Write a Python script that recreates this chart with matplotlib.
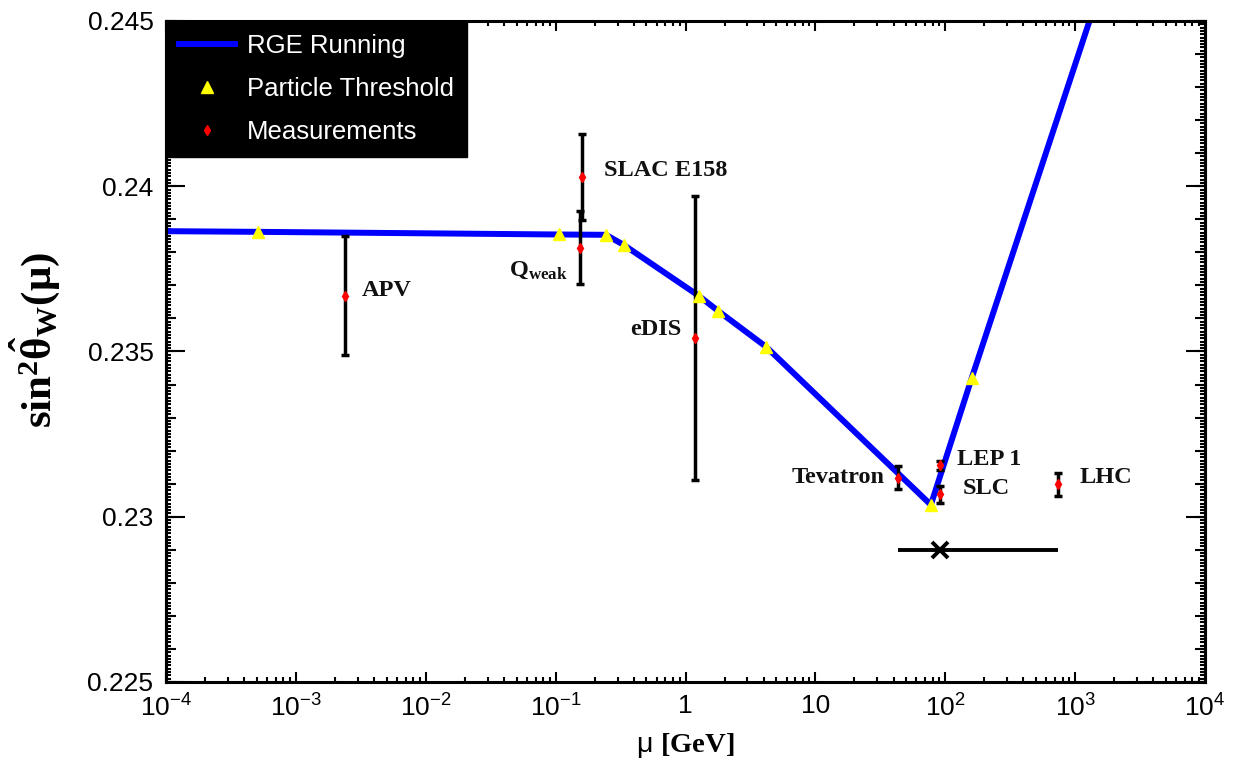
import numpy as np
import matplotlib
matplotlib.use("Agg")
import matplotlib.pyplot as plt
from matplotlib.ticker import FixedLocator, LogLocator, NullFormatter, FixedFormatter
from matplotlib.lines import Line2D

plt.rcParams['font.family'] = ['Liberation Sans', 'DejaVu Sans']
plt.rcParams['mathtext.fontset'] = 'custom'
plt.rcParams['mathtext.rm'] = 'Liberation Sans'
plt.rcParams['mathtext.it'] = 'Liberation Sans:italic'
plt.rcParams['mathtext.bf'] = 'Liberation Serif:bold'
plt.rcParams['mathtext.sf'] = 'Liberation Sans'

# ---------------- data ----------------
rge_mu = [1e-4, 5.11e-4, 0.1057, 0.244, 0.336, 1.27, 1.78, 4.18, 77.5, 160, 1e4]
rge_s2w = [0.23864, 0.23862, 0.23854, 0.23853, 0.23822, 0.23668, 0.23623, 0.23514, 0.23036, 0.23420, 0.2556]

threshold_mu = [5.11e-4, 0.1057, 0.244, 0.336, 1.27, 1.78, 4.18, 77.5, 160]
threshold_s2w = [0.23862, 0.23854, 0.23853, 0.23822, 0.23668, 0.23623, 0.23514, 0.23036, 0.23420]

meas_names = ["APV", r"$\mathbf{Q_{weak}}$", "SLAC E158", "eDIS", "Tevatron", "LEP 1", "SLC", "LHC"]
meas_mu = [2.39e-3, 0.154, 0.160, 1.18, 43.6, 90.8, 90.8, 740]
meas_s2w = [0.23668, 0.23814, 0.24027, 0.23541, 0.23118, 0.23155, 0.23068, 0.23098]
meas_err = [0.0018, 0.0011, 0.0013, 0.0043, 0.00035, 0.00015, 0.00025, 0.00035]

# label anchor positions (mu, s2w) and horizontal alignment
label_mu = [3.23e-3, 0.124, 0.2355, 0.373, 6.59, 122.8, 136.4, 1087]
label_s2w = [0.23686, 0.23745, 0.24049, 0.23565, 0.2312, 0.23172, 0.23084, 0.2312]
label_ha = ["left", "right", "left", "left", "left", "left", "left", "left"]

avg_mu = 90.8
avg_s2w = 0.2290
avg_mu_range = (43.6, 740)

xtick_vals = [1e-4, 1e-3, 1e-2, 1e-1, 1, 10, 1e2, 1e3, 1e4]
xtick_labels = [r"$10^{-4}$", r"$10^{-3}$", r"$10^{-2}$", r"$10^{-1}$", "1", "10",
                r"$10^{2}$", r"$10^{3}$", r"$10^{4}$"]
ytick_vals = [0.225, 0.23, 0.235, 0.24, 0.245]
ytick_labels = ["0.225", "0.23", "0.235", "0.24", "0.245"]

# ---------------- figure ----------------
fig = plt.figure(figsize=(12.5, 7.66), dpi=100)
ax = fig.add_axes([0.1328, 0.1097, 0.8312, 0.8629])

ax.plot(rge_mu, rge_s2w, color='#0000ff', lw=4.3, zorder=2, solid_capstyle='butt')
ax.errorbar(meas_mu, meas_s2w, yerr=meas_err, fmt='none', ecolor='black',
            elinewidth=2.5, capsize=3, capthick=2.5, zorder=3)
ax.plot(threshold_mu, threshold_s2w, '^', color='#ffff00', ms=8, mec='#ffff00', zorder=4, ls='none')
ax.plot(meas_mu, meas_s2w, 'd', color='red', ms=5, mec='red', zorder=5, ls='none')
ax.errorbar([avg_mu], [avg_s2w],
            xerr=[[avg_mu - avg_mu_range[0]], [avg_mu_range[1] - avg_mu]],
            fmt='x', color='black', ms=11, mew=2.8, elinewidth=2.8, capsize=0, zorder=3)

for name, lx, ly, ha in zip(meas_names, label_mu, label_s2w, label_ha):
    ax.text(lx, ly, name, ha=ha, va='center', fontsize=17.5, fontweight='bold',
            family='Liberation Serif', color='#111111')

ax.set_xscale('log')
ax.set_xlim(1e-4, 1e4)
ax.set_ylim(0.225, 0.245)

ax.xaxis.set_major_locator(FixedLocator(xtick_vals))
ax.xaxis.set_major_formatter(FixedFormatter(xtick_labels))
ax.xaxis.set_minor_locator(LogLocator(base=10, subs=np.arange(2, 10), numticks=100))
ax.xaxis.set_minor_formatter(NullFormatter())
ax.yaxis.set_major_locator(FixedLocator(ytick_vals))
ax.yaxis.set_major_formatter(FixedFormatter(ytick_labels))
ax.yaxis.set_minor_locator(FixedLocator(np.arange(0.225, 0.24501, 0.0001)))

ax.tick_params(which='both', direction='in', top=True, right=True, width=1.5)
ax.tick_params(axis='x', which='major', length=7.5, labelsize=19, pad=9)
ax.tick_params(axis='x', which='minor', length=3.8)
ax.tick_params(axis='y', which='major', length=14, labelsize=19, pad=9)
ax.tick_params(axis='y', which='minor', length=3.8)
for sp in ax.spines.values():
    sp.set_linewidth(2.2)

medium_ticks = np.arange(0.225, 0.24501, 0.001)
for side in ('left', 'right'):
    sec = ax.secondary_yaxis(side)
    sec.set_yticks(medium_ticks)
    sec.tick_params(direction='in', length=7.5, width=1.5, labelleft=False, labelright=False)
    sec.spines[side].set_linewidth(2.2)

ax.set_xlabel(r"$\mathrm{\mu}$ $\mathbf{[GeV]}$", fontsize=20.5, labelpad=7)
ax.set_ylabel(r"$\mathbf{sin^2\hat{\theta}_W(\mu)}$", fontsize=31)
ax.yaxis.set_label_coords(-0.10, 0.517)

handles = [Line2D([], [], color='#0000ff', lw=4.3),
           Line2D([], [], color='#ffff00', marker='^', ls='none', ms=8),
           Line2D([], [], color='red', marker='d', ls='none', ms=5)]
leg = ax.legend(handles, ["RGE Running", "Particle Threshold", "Measurements"],
                loc='upper left', bbox_to_anchor=(0, 1), borderaxespad=0,
                fontsize=18.5, facecolor='black', edgecolor='black', framealpha=1,
                fancybox=False, labelcolor='white', handlelength=2.2,
                handletextpad=0.45, labelspacing=0.75, borderpad=0.5)
leg.set_zorder(10)

fig.savefig("out.png", dpi=100)
